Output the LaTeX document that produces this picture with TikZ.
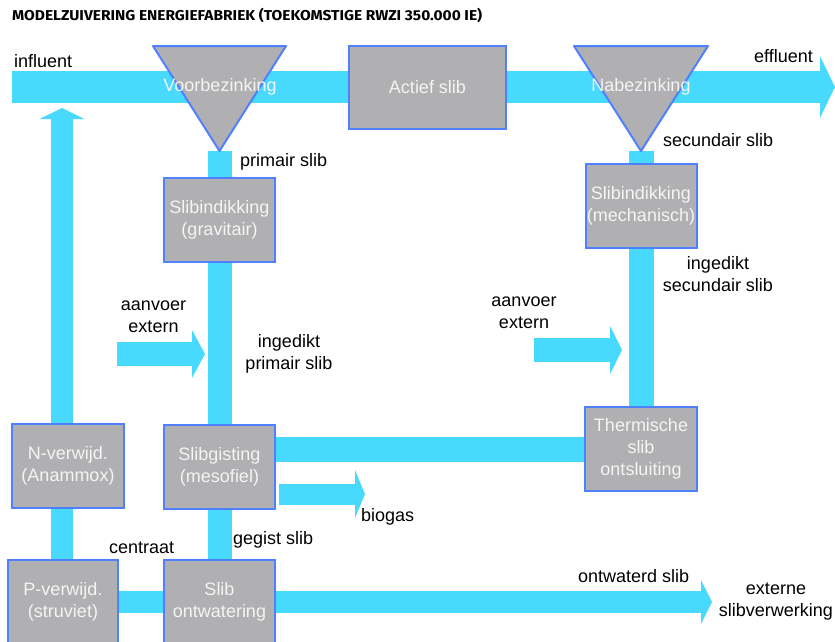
\documentclass[tikz,border=0pt]{standalone}
\usepackage{graphicx}
\usepackage{fontspec}
\setmainfont{Liberation Sans}
\newfontfamily\titlefont{Fira Sans}
\usetikzlibrary{arrows.meta}
\definecolor{bandcol}{HTML}{48D9FF}
\definecolor{boxfill}{HTML}{B0B0B2}
\definecolor{boxline}{HTML}{4F80FF}
\definecolor{boxtext}{HTML}{F4F4F4}
\pgfdeclarelayer{background}
\pgfsetlayers{background,main}
\begin{document}
\begin{tikzpicture}[x=1pt,y=-1pt,
  txt/.style={font=\fontsize{18}{22}\selectfont, text=black, inner sep=0pt, align=center},
  unit/.style={draw=boxline, line width=2pt, fill=boxfill, text=boxtext,
    font=\fontsize{18}{22}\selectfont, align=center, inner sep=0pt,
    minimum width=111pt, minimum height=84pt},
  settler/.style={draw=boxline, line width=2pt, fill=boxfill, line join=round},
  tanklabel/.style={text=boxtext, font=\fontsize{18}{22}\selectfont, inner sep=0pt},
  flow/.style={draw=bandcol, line width=#1},
  head/.style 2 args={-{Triangle[width=#1 0 0,length=#2 0 0,line width=0pt 0 0]}}
]
\useasboundingbox (0,0) rectangle (835,641);
\clip (0,0) rectangle (835,641);

% title
\node[anchor=base west, inner sep=0pt] (title) at (12,20.5)
  {\resizebox{470pt}{\height}{\titlefont\fontsize{14.3}{16}\selectfont\bfseries MODELZUIVERING ENERGIEFABRIEK (TOEKOMSTIGE RWZI 350.000 IE)}};

% settling tanks
\draw[settler] (153,46) -- (286,46) -- (219.5,151) -- cycle;
\coordinate (vbtip) at (219.5,151);
\node[tanklabel] (vb) at (220,87) {Voorbezinking};
\draw[settler] (574,46) -- (708,46) -- (641,151) -- cycle;
\coordinate (nbtip) at (641,151);
\node[tanklabel] (nb) at (641,87) {Nabezinking};

% process units
\node[unit, minimum width=157pt, minimum height=83pt] (as) at (427.5,87) {Actief slib};
\node[unit] (sig) at (219.5,220) {Slibindikking\\(gravitair)};
\node[unit] (sim) at (641,205.5) {Slibindikking\\(mechanisch)};
\node[unit] (sg) at (219.5,467) {Slibgisting\\(mesofiel)};
\node[unit, minimum width=112pt] (nv) at (68,466) {N-verwijd.\\(Anammox)};
\node[unit, minimum width=112pt] (ts) at (641,449) {Thermische\\slib\\ontsluiting};
\node[unit, minimum width=110pt] (pv) at (63,602) {P-verwijd.\\(struviet)};
\node[unit] (so) at (219.5,602) {Slib\\ontwatering};

% free ends of the flows
\coordinate (inlet) at (12,87);
\coordinate (outlet) at (835,87);
\coordinate (nup) at (62,108);
\coordinate (dryout) at (712,602);
\coordinate (gasout) at (365,494);
\coordinate (feedA) at (117,354);
\coordinate (feedAend) at (205,354);
\coordinate (feedB) at (534,350);
\coordinate (feedBend) at (622,350);

% flows
\begin{pgfonlayer}{background}
\draw[flow=32, head={62pt}{15pt}] (inlet) -- (vb.center) -- (as.center) -- (nb.center) -- (outlet);
\draw[flow=24] (vbtip) -- (sig.center) -- (sg.center) -- (so.center);
\draw[flow=25] (nbtip) -- (sim.center) -- (ts.center);
\draw[flow=25] (sg.center |- ts.center) -- (ts.center);
\draw[flow=22, head={45pt}{11pt}] (nup |- pv.center) -- (nup);
\draw[flow=22.5, head={44pt}{11pt}] (pv.center) -- (so.center) -- (dryout);
\draw[flow=21, head={48pt}{10pt}] ([xshift=3pt]sg.east |- gasout) -- (gasout);
\draw[flow=24, head={48pt}{13pt}] (feedA) -- (feedAend);
\draw[flow=24, head={48pt}{12pt}] (feedB) -- (feedBend);
\end{pgfonlayer}

% labels
\node[txt, anchor=base west] (lin) at (14,67) {influent};
\node[txt, anchor=base west] (lout) at (754,62) {effluent};
\node[txt, anchor=base west] (lps) at (240,166) {primair slib};
\node[txt, anchor=base west] (lss) at (663,146) {secundair slib};
\node[txt] (liss) at (718,274.5) {ingedikt\\secundair slib};
\node[txt] (lfa) at (153.5,317) {aanvoer\\extern};
\node[txt] (lips) at (289,354) {ingedikt\\primair slib};
\node[txt] (lfb) at (524,312.5) {aanvoer\\extern};
\node[txt, anchor=base west] (lgas) at (361,521) {biogas};
\node[txt, anchor=base west] (lcen) at (109,553) {centraat};
\node[txt, anchor=base west] (lgs) at (233,544) {gegist slib};
\node[txt, anchor=base west] (lds) at (578,582) {ontwaterd slib};
\node[txt] (lext) at (776,602) {externe\\slibverwerking};
\end{tikzpicture}
\end{document}
